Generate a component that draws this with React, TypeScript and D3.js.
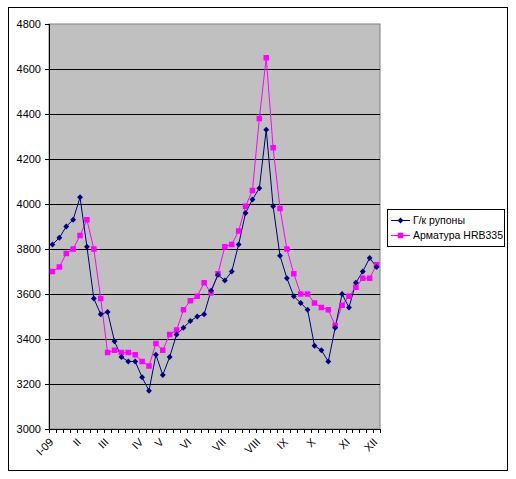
import React, { useEffect, useRef } from 'react';
import * as d3 from 'd3';

// weekly prices, 2009 (48 weeks)
const weekMonth = [
  'I-09', '', '', '', 'II', '', '', '', 'III', '', '', '', '', 'IV', '', '', 'V', '', '', '', 'VI', '', '', '', '',
  'VII', '', '', '', '', 'VIII', '', '', '', 'IX', '', '', '', 'X', '', '', '', '', 'XI', '', '', '', 'XII'
];
const rolls = [
  3820, 3850, 3900, 3930, 4030, 3810, 3580, 3510, 3520, 3390, 3320, 3300, 3300, 3230, 3170, 3330,
  3240, 3320, 3420, 3450, 3480, 3500, 3510, 3615, 3685, 3660, 3700, 3820, 3960, 4020, 4070, 4330,
  3990, 3770, 3670, 3590, 3560, 3530, 3370, 3350, 3300, 3450, 3600, 3540, 3650, 3700, 3760, 3720
];
const rebar = [
  3700, 3720, 3780, 3800, 3860, 3930, 3800, 3580, 3340, 3350, 3340, 3340, 3330, 3300, 3280, 3380,
  3350, 3420, 3440, 3530, 3570, 3590, 3650, 3605, 3690, 3810, 3820, 3880, 3990, 4060, 4380, 4650,
  4250, 3980, 3800, 3690, 3600, 3600, 3560, 3540, 3530, 3460, 3550, 3590, 3630, 3670, 3670, 3730
];
const yTicks = [3000, 3200, 3400, 3600, 3800, 4000, 4200, 4400, 4600, 4800];
const seriesNames = ['Г/к рупоны', 'Арматура HRB335'];

export default function App(): JSX.Element {
  const svgRef = useRef<SVGSVGElement>(null);

  useEffect(() => {
    const el = svgRef.current;
    if (el == null) return;
    const svg = d3.select(el);
    svg.selectAll('*').remove();

    const FONT = 'Arial, "Liberation Sans", sans-serif';
    const BLUE = '#000080';
    const PINK = '#FF00FF';
    const plot = { left: 49, right: 380, top: 24, bottom: 429 };

    // outer frame
    svg.append('rect')
      .attr('x', 8.5).attr('y', 7.5).attr('width', 499).attr('height', 463)
      .attr('fill', 'white').attr('stroke', '#000').attr('stroke-width', 1);

    const idx = weekMonth.map((_, i) => String(i));
    const x = d3.scaleBand().domain(idx).range([plot.left, plot.right]);
    const cx = (i: number) => (x(String(i)) || 0) + x.bandwidth() / 2;
    const y = d3.scaleLinear().domain([3000, 4800]).range([plot.bottom, plot.top]);

    svg.append('rect')
      .attr('x', plot.left).attr('y', plot.top)
      .attr('width', plot.right - plot.left).attr('height', plot.bottom - plot.top)
      .attr('fill', '#C0C0C0').attr('stroke', '#808080');

    // gridlines
    svg.selectAll('line.grid').data(yTicks.slice(1, -1)).enter().append('line')
      .attr('x1', plot.left).attr('x2', plot.right)
      .attr('y1', (d) => Math.round(y(d)) + 0.5).attr('y2', (d) => Math.round(y(d)) + 0.5)
      .attr('stroke', '#000').attr('stroke-width', 1);

    // y axis
    svg.append('line')
      .attr('x1', plot.left + 0.5).attr('x2', plot.left + 0.5)
      .attr('y1', plot.top).attr('y2', plot.bottom)
      .attr('stroke', '#000');
    svg.selectAll('line.ytick').data(yTicks).enter().append('line')
      .attr('x1', plot.left - 4).attr('x2', plot.left)
      .attr('y1', (d) => Math.round(y(d)) + 0.5).attr('y2', (d) => Math.round(y(d)) + 0.5)
      .attr('stroke', '#000');
    svg.selectAll('text.ylab').data(yTicks).enter().append('text')
      .attr('x', 41).attr('y', (d) => y(d)).attr('dy', '0.35em')
      .attr('text-anchor', 'end').attr('font-family', FONT).attr('font-size', 11)
      .text((d) => d);

    // x axis
    svg.append('line')
      .attr('x1', plot.left).attr('x2', plot.right)
      .attr('y1', plot.bottom + 0.5).attr('y2', plot.bottom + 0.5)
      .attr('stroke', '#000');
    const bounds = d3.range(weekMonth.length + 1).map((i) =>
      i < weekMonth.length ? x(String(i)) || 0 : plot.right);
    svg.selectAll('line.xtick').data(bounds).enter().append('line')
      .attr('x1', (d) => Math.round(d) + 0.5).attr('x2', (d) => Math.round(d) + 0.5)
      .attr('y1', plot.bottom).attr('y2', plot.bottom + 4)
      .attr('stroke', '#000');
    weekMonth.forEach((m, i) => {
      if (!m) return;
      svg.append('text')
        .attr('transform', `translate(${cx(i) - 1},440) rotate(-45)`)
        .attr('text-anchor', 'end').attr('dy', '0.35em')
        .attr('font-family', FONT).attr('font-size', 11)
        .text(m);
    });

    // series
    const line = d3.line<number>().x((_, i) => cx(i)).y((d) => y(d));
    svg.append('path').attr('d', line(rebar)).attr('fill', 'none')
      .attr('stroke', PINK).attr('stroke-width', 1);
    svg.append('path').attr('d', line(rolls)).attr('fill', 'none')
      .attr('stroke', BLUE).attr('stroke-width', 1);

    const diamond = d3.symbol().type(d3.symbolDiamond2).size(22);
    svg.selectAll('rect.sq').data(rebar).enter().append('rect')
      .attr('x', (_, i) => cx(i) - 2.75).attr('y', (d) => y(d) - 2.75)
      .attr('width', 5.5).attr('height', 5.5).attr('fill', PINK);
    svg.selectAll('path.dm').data(rolls).enter().append('path')
      .attr('d', diamond()).attr('transform', (d, i) => `translate(${cx(i)},${y(d)})`)
      .attr('fill', BLUE);

    // legend
    const lg = svg.append('g').attr('transform', 'translate(387,209)');
    lg.append('rect').attr('x', 0.5).attr('y', 0.5).attr('width', 117).attr('height', 37)
      .attr('fill', 'white').attr('stroke', '#000');
    [BLUE, PINK].forEach((c, k) => {
      const ly = 11.5 + k * 15;
      lg.append('line').attr('x1', 4).attr('x2', 23).attr('y1', ly).attr('y2', ly)
        .attr('stroke', c);
      if (k === 0) {
        lg.append('path').attr('d', diamond()).attr('transform', `translate(13.5,${ly})`).attr('fill', c);
      } else {
        lg.append('rect').attr('x', 10.75).attr('y', ly - 2.75).attr('width', 5.5).attr('height', 5.5).attr('fill', c);
      }
      lg.append('text').attr('x', 26).attr('y', ly).attr('dy', '0.35em')
        .attr('font-family', FONT).attr('font-size', 10.5).text(seriesNames[k]);
    });
  });

  return (
    <svg ref={svgRef} width={516} height={479}
      style={{ position: 'absolute', left: 0, top: 0, background: 'white' }} />
  );
}
